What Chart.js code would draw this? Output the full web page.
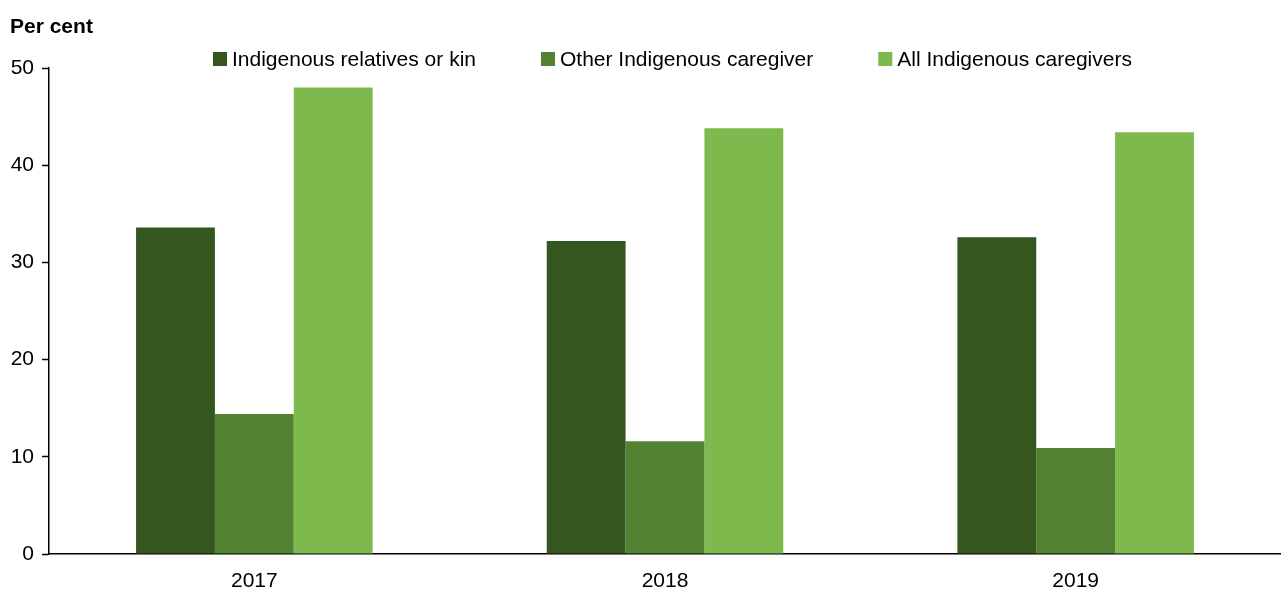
<!DOCTYPE html>
<html>
<head>
<meta charset="utf-8">
<script src="https://cdn.jsdelivr.net/npm/chart.js@4/dist/chart.umd.min.js"></script>
<style>
  html, body { margin: 0; padding: 0; background: #fff; }
  #wrap { width: 1281px; height: 590px; position: relative; }
</style>
</head>
<body>
<div id="wrap"><canvas id="chart"></canvas></div>
<script>
const years = ['2017', '2018', '2019']
const relativesKin = [33.6, 32.2, 32.6]
const otherCaregiver = [14.4, 11.6, 10.9]
const allCaregivers = [48.0, 43.8, 43.4]
const seriesNames = ['Indigenous relatives or kin', 'Other Indigenous caregiver', 'All Indigenous caregivers']
const seriesColors = ['#36561f', '#538132', '#7db94d']
const yTicks = [0, 10, 20, 30, 40, 50]

const font = 'Liberation Sans, Arial, sans-serif'

// legend drawn by hand so the spacing matches the original
const legendPlugin = {
  id: 'topLegend',
  afterDraw(chart) {
    const ctx = chart.ctx
    ctx.save()
    ctx.font = '21px ' + font
    ctx.textBaseline = 'middle'
    let x = 213
    const y = 59
    chart.data.datasets.forEach(ds => {
      ctx.fillStyle = ds.backgroundColor
      ctx.fillRect(x, y - 7, 14, 14)
      ctx.fillStyle = '#000'
      ctx.fillText(ds.label, x + 19, y + 1)
      x += 19 + ctx.measureText(ds.label).width + 65
    })
    ctx.restore()
  }
}

const data = {
  labels: years,
  datasets: [relativesKin, otherCaregiver, allCaregivers].map((vals, i) => ({
    label: seriesNames[i],
    data: vals,
    backgroundColor: seriesColors[i],
    borderWidth: 0,
    categoryPercentage: 0.576,
    barPercentage: 1.0
  }))
}

new Chart(document.getElementById('chart'), {
  type: 'bar',
  data: data,
  plugins: [legendPlugin],
  options: {
    responsive: true,
    maintainAspectRatio: false,
    animation: false,
    layout: { padding: { left: 10, right: 0, top: 0, bottom: 0 } },
    plugins: {
      legend: { display: false },
      tooltip: { enabled: false },
      title: {
        display: true,
        text: 'Per cent',
        align: 'start',
        color: '#000',
        font: { family: font, size: 21, weight: 'bold' },
        padding: { top: 15, bottom: 27.8 }
      }
    },
    scales: {
      x: {
        grid: { display: false, drawTicks: false },
        border: { display: true, color: '#000', width: 1.5 },
        ticks: { color: '#000', font: { family: font, size: 21 }, padding: 15 },
        afterFit: s => { s.height = 36 }
      },
      y: {
        min: 0,
        max: 50,
        afterBuildTicks: s => { s.ticks = yTicks.map(v => ({ value: v })) },
        grid: { drawOnChartArea: false, tickLength: 7, color: '#000', tickWidth: 1.5 },
        border: { display: true, color: '#000', width: 1.5 },
        ticks: { color: '#000', font: { family: font, size: 21 }, padding: 8 },
        afterFit: s => { s.width = 39 }
      }
    }
  }
})
</script>
</body>
</html>
